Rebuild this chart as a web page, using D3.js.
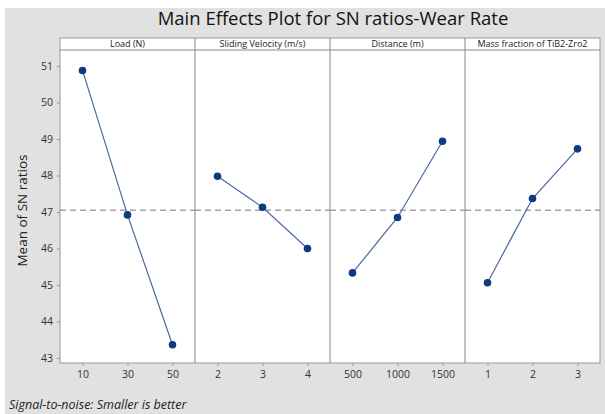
<!DOCTYPE html>
<html><head><meta charset="utf-8">
<script src="https://cdn.jsdelivr.net/npm/d3@7"></script>
<style>body{margin:0;background:#fff}svg{display:block}</style>
</head><body><svg id="c" width="605" height="414"></svg>
<script>
const factors = ["Load (N)", "Sliding Velocity (m/s)", "Distance (m)", "Mass fraction of TiB2-Zro2"];
const levelsLoad = ["10", "30", "50"];
const levelsVelocity = ["2", "3", "4"];
const levelsDistance = ["500", "1000", "1500"];
const levelsMass = ["1", "2", "3"];
const snLoad = [50.88, 46.92, 43.36];
const snVelocity = [47.98, 47.13, 46.00];
const snDistance = [45.33, 46.85, 48.94];
const snMass = [45.06, 47.37, 48.73];
const yTicks = [43, 44, 45, 46, 47, 48, 49, 50, 51];
const grandMean = 47.05;

(function () {
const levels = [levelsLoad, levelsVelocity, levelsDistance, levelsMass];
const values = [snLoad, snVelocity, snDistance, snMass];

const svg = d3.select("#c");
const W = 605, H = 414;
svg.append("rect").attr("x", 5).attr("y", 8).attr("width", W - 5).attr("height", H - 8).attr("fill", "#e1e1e1");

const pLeft = 60, pRight = 600, stripTop = 38, pTop = 50, pBottom = 363;
const y = d3.scaleLinear().domain([42.86, 51.44]).range([pBottom, pTop]);
const panel = d3.scaleBand().domain(factors).range([pLeft, pRight]);

svg.append("text").attr("x", 333).attr("y", 25).attr("text-anchor", "middle")
  .attr("font-family", "'Open Sans', 'Noto Sans', sans-serif").attr("font-size", 18.5).attr("font-weight", 500).attr("fill", "#111")
  .text("Main Effects Plot for SN ratios-Wear Rate");

svg.append("rect").attr("x", pLeft).attr("y", stripTop).attr("width", pRight - pLeft).attr("height", pBottom - stripTop)
  .attr("fill", "#fff").attr("stroke", "#9a9a9a").attr("stroke-width", 1);

factors.forEach((f, i) => {
  const x0 = panel(f), bw = panel.bandwidth();
  const g = svg.append("g");
  g.append("line").attr("x1", x0).attr("x2", x0 + bw).attr("y1", pTop).attr("y2", pTop).attr("stroke", "#8a8a8a");
  g.append("text").attr("x", x0 + bw / 2).attr("y", pTop - 3).attr("text-anchor", "middle")
    .attr("font-family", "'Open Sans', sans-serif").attr("font-size", 9).attr("fill", "#222")
    .attr("textLength", null)
    .text(f);
  if (i > 0) g.append("line").attr("x1", x0).attr("x2", x0).attr("y1", stripTop).attr("y2", pBottom).attr("stroke", "#8a8a8a");

  const x = d3.scalePoint().domain(levels[i]).range([x0, x0 + bw]).padding(0.5);
  const ax = svg.append("g").attr("transform", `translate(0,${pBottom})`)
    .call(d3.axisBottom(x).tickSize(3).tickPadding(5));
  ax.select(".domain").remove();
  ax.selectAll("line").attr("stroke", "#999");
  ax.selectAll("text").attr("font-family", "'Open Sans', sans-serif").attr("font-size", 10.5).attr("fill", "#333");

  g.append("line").attr("x1", x0).attr("x2", x0 + bw).attr("y1", y(grandMean)).attr("y2", y(grandMean))
    .attr("stroke", "#777").attr("stroke-dasharray", "6,4").attr("stroke-width", 1);

  const pts = levels[i].map((l, j) => [x(l), y(values[i][j])]);
  g.append("path").attr("d", d3.line()(pts)).attr("fill", "none").attr("stroke", "#4a6a9e").attr("stroke-width", 1.2);
  g.selectAll("circle").data(pts).join("circle").attr("cx", d => d[0]).attr("cy", d => d[1]).attr("r", 3.8)
    .attr("fill", "#0d3a80");
});

const ay = svg.append("g").attr("transform", `translate(${pLeft},0)`)
  .call(d3.axisLeft(y).tickValues(yTicks).tickSize(3).tickPadding(4));
ay.select(".domain").remove();
ay.selectAll("line").attr("stroke", "#999");
ay.selectAll("text").attr("font-family", "'Open Sans', sans-serif").attr("font-size", 10.5).attr("fill", "#333");

svg.append("text").attr("transform", `translate(27,${(pTop + pBottom) / 2 + 4}) rotate(-90)`).attr("text-anchor", "middle")
  .attr("font-family", "'Open Sans', sans-serif").attr("font-size", 13.5).attr("fill", "#222")
  .text("Mean of SN ratios");

svg.append("text").attr("x", 9).attr("y", 409)
  .attr("font-family", "'Open Sans', sans-serif").attr("font-style", "italic").attr("font-size", 12.5).attr("fill", "#222")
  .text("Signal-to-noise: Smaller is better");
})();
</script></body></html>
